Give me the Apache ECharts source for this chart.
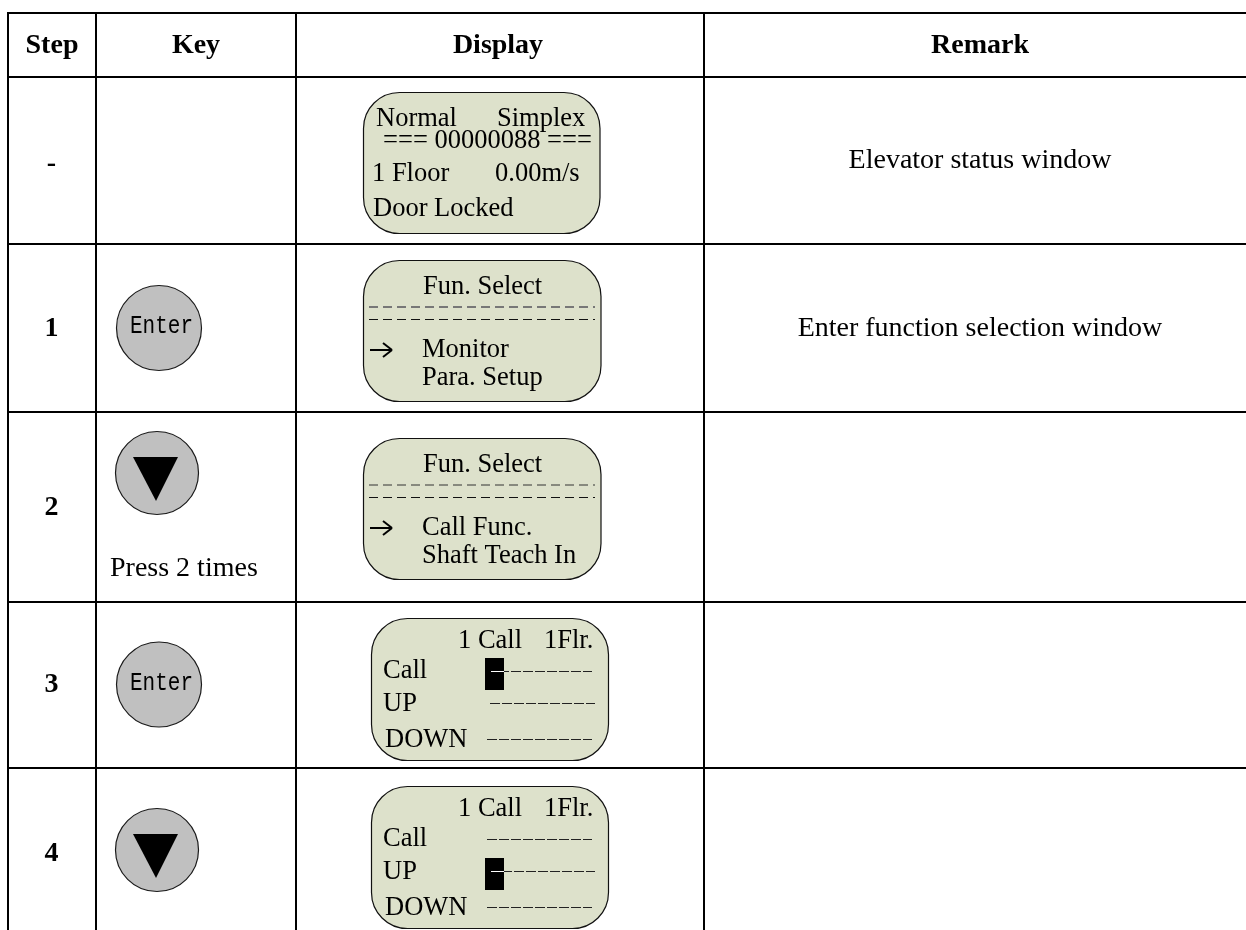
<!DOCTYPE html>
<html>
<head>
<meta charset="utf-8">
<title>Call function steps</title>
<style>
    html, body { margin: 0; padding: 0; background: #fff; }
    #main { width: 1246px; height: 930px; }
</style>
<script src="https://cdn.jsdelivr.net/npm/echarts@6/dist/echarts.min.js"></script>
</head>
<body>
<div id="main"></div>
<script>
// table content
var headers = ['Step', 'Key', 'Display', 'Remark'];
var steps = ['-', '1', '2', '3', '4'];
var keys = ['', 'Enter', 'down', 'Enter', 'down'];
var keyNotes = ['', '', 'Press 2 times', '', ''];
var remarks = ['Elevator status window', 'Enter function selection window', '', '', ''];

// display windows
var statusScreen = ['Normal', 'Simplex', '=== 00000088 ===', '1 Floor', '0.00m/s', 'Door Locked'];
var monitorScreen = ['Fun. Select', 'Monitor', 'Para. Setup'];
var callFuncScreen = ['Fun. Select', 'Call Func.', 'Shaft Teach In'];
var callScreenText = ['1 Call', '1Flr.', 'Call', 'UP', 'DOWN'];

// layout, in page pixels
var colLines = [8, 96, 296, 704];
var rowLines = [13, 77, 244, 412, 602, 768];
var headerCenters = [52, 196, 498, 980];
var stepBaselines = [173, 338, 517, 694, 863];
var remarkBaselines = [170, 338];
var keyCircles = [null, [159, 328, 42.5], [157, 473, 41.5], [159, 684.5, 42.5], [157, 850, 41.5]];

var FONT = '"Liberation Serif", "Times New Roman", serif';
var TABLE_SIZE = 28;
var SCREEN_SIZE = 26.5;
var SCREEN_FILL = '#dde1cb';

function toPx(api, x, y) {
    return api.coord([x, y]);
}

function label(api, x, baseline, str, size, opt) {
    opt = opt || {};
    var p = toPx(api, x, baseline);
    var el = {
        type: 'text',
        style: {
            x: p[0],
            y: p[1] - size * 0.3375,
            text: str,
            fill: opt.fill || '#000',
            font: (opt.bold ? 'bold ' : '') + size + 'px ' + (opt.family || FONT),
            align: opt.align || 'left',
            verticalAlign: 'middle'
        }
    };
    if (opt.stretch) {
        el.scaleY = opt.stretch;
        el.originX = p[0];
        el.originY = p[1];
    }
    return el;
}

function rule(api, x1, y1, x2, y2, width, color, dash) {
    var a = toPx(api, x1, y1), b = toPx(api, x2, y2);
    return {
        type: 'line',
        shape: { x1: a[0], y1: a[1], x2: b[0], y2: b[1] },
        style: { stroke: color || '#000', lineWidth: width, lineDash: dash || null }
    };
}

function renderLines(params, api) {
    var children = [];
    rowLines.forEach(function (y) {
        children.push(rule(api, colLines[0] - 1, y, 1246, y, 2));
    });
    colLines.forEach(function (x) {
        children.push(rule(api, x, rowLines[0], x, 930, 2));
    });
    headers.forEach(function (h, i) {
        children.push(label(api, headerCenters[i], 55, h, TABLE_SIZE, { bold: true, align: 'center' }));
    });
    return { type: 'group', children: children };
}

function renderStep(params, api) {
    var i = params.dataIndex;
    return label(api, 51.5, stepBaselines[i], steps[i], TABLE_SIZE, { bold: true, align: 'center' });
}

function renderKey(params, api) {
    var i = params.dataIndex, children = [];
    if (keys[i]) {
        var c = keyCircles[i], p = toPx(api, c[0], c[1]);
        children.push({
            type: 'circle',
            shape: { cx: p[0], cy: p[1], r: c[2] },
            style: { fill: '#c0c0c0', stroke: '#1a1a1a', lineWidth: 1.2 }
        });
        if (keys[i] === 'Enter') {
            children.push(label(api, c[0] + 2.5, c[1] + 7, keys[i], 21, {
                align: 'center',
                family: '"Liberation Mono", monospace',
                stretch: 1.22
            }));
        } else {
            var a = toPx(api, 133, c[1] - 16), b = toPx(api, 178, c[1] - 16), t = toPx(api, 156, c[1] + 28);
            children.push({
                type: 'polygon',
                shape: { points: [a, b, t] },
                style: { fill: '#000' }
            });
        }
    }
    if (keyNotes[i]) {
        children.push(label(api, 110, 578, keyNotes[i], TABLE_SIZE));
    }
    return { type: 'group', children: children };
}

function screenBox(api, x, y, w, h) {
    var p = toPx(api, x, y);
    return {
        type: 'rect',
        shape: { x: p[0] + 0.5, y: p[1] + 0.5, width: w, height: h, r: 36 },
        style: { fill: SCREEN_FILL, stroke: '#111', lineWidth: 1.2 }
    };
}

function arrow(api, y) {
    return [
        rule(api, 370, y, 392, y, 2),
        rule(api, 383, y - 7, 392, y, 2),
        rule(api, 383, y + 7, 392, y, 2)
    ];
}

function selectScreen(api, top, text, firstDashColor, firstDashWidth) {
    var dash = [9, 5];
    return [
        screenBox(api, 363, top, 237.5, 141),
        label(api, 423, top + 35.5, text[0], SCREEN_SIZE),
        rule(api, 369, top + 47, 595, top + 47, firstDashWidth, firstDashColor, dash),
        rule(api, 369, top + 59.5, 595, top + 59.5, 1, '#111', dash)
    ].concat(arrow(api, top + 90), [
        label(api, 422, top + 99, text[1], SCREEN_SIZE),
        label(api, 422, top + 127, text[2], SCREEN_SIZE)
    ]);
}

function callScreen(api, top, activeRow) {
    var dash = [10, 2];
    var ys = [53.5, 85.5, 121.5];
    var starts = [487, 490, 487];
    var ends = [592, 595, 592];
    var out = [
        screenBox(api, 371, top, 237, 142),
        label(api, 458, top + 32, callScreenText[0], SCREEN_SIZE),
        label(api, 544, top + 32, callScreenText[1], SCREEN_SIZE),
        label(api, 383, top + 62, callScreenText[2], SCREEN_SIZE),
        label(api, 383, top + 95, callScreenText[3], SCREEN_SIZE),
        label(api, 385, top + 131, callScreenText[4], SCREEN_SIZE)
    ];
    ys.forEach(function (y, i) {
        out.push(rule(api, starts[i], top + y, ends[i], top + y, 1, '#222', dash));
    });
    var p = toPx(api, 485, top + ys[activeRow] - 13.5);
    out.push({
        type: 'rect',
        shape: { x: p[0], y: p[1], width: 19, height: 32 },
        style: { fill: '#000' }
    });
    out.push(rule(api, 491, top + ys[activeRow], 504, top + ys[activeRow], 1, '#fff'));
    return out;
}

function renderDisplay(params, api) {
    var i = params.dataIndex, children = [];
    if (i === 0) {
        children.push(screenBox(api, 363, 92, 236.5, 141));
        var pos = [[376, 128], [497, 128], [383, 150], [372, 183], [495, 183], [373, 218]];
        statusScreen.forEach(function (s, k) {
            children.push(label(api, pos[k][0], pos[k][1], s, SCREEN_SIZE));
        });
    } else if (i === 1) {
        children = selectScreen(api, 260, monitorScreen, '#777', 2);
    } else if (i === 2) {
        children = selectScreen(api, 438, callFuncScreen, '#333', 1);
    } else if (i === 3) {
        children = callScreen(api, 618, 0);
    } else {
        children = callScreen(api, 786, 1);
    }
    return { type: 'group', children: children };
}

function renderRemark(params, api) {
    var i = params.dataIndex;
    if (!remarks[i]) {
        return null;
    }
    return label(api, 980, remarkBaselines[i], remarks[i], TABLE_SIZE, { align: 'center' });
}

function rowData() {
    return steps.map(function (s, i) {
        return [i, i];
    });
}

var chart = echarts.init(document.getElementById('main'), null, { renderer: 'canvas' });
chart.setOption({
    animation: false,
    backgroundColor: '#fff',
    tooltip: { show: false },
    grid: { left: 0, right: 0, top: 0, bottom: 0 },
    xAxis: { type: 'value', min: 0, max: 1246, show: false },
    yAxis: { type: 'value', min: 0, max: 930, inverse: true, show: false },
    series: [
        { type: 'custom', name: 'lines', silent: true, clip: false, data: [[0, 0]], renderItem: renderLines },
        { type: 'custom', name: 'step', silent: true, clip: false, data: rowData(), renderItem: renderStep },
        { type: 'custom', name: 'key', silent: true, clip: false, data: rowData(), renderItem: renderKey },
        { type: 'custom', name: 'display', silent: true, clip: false, data: rowData(), renderItem: renderDisplay },
        { type: 'custom', name: 'remark', silent: true, clip: false, data: rowData(), renderItem: renderRemark }
    ]
});
</script>
</body>
</html>
